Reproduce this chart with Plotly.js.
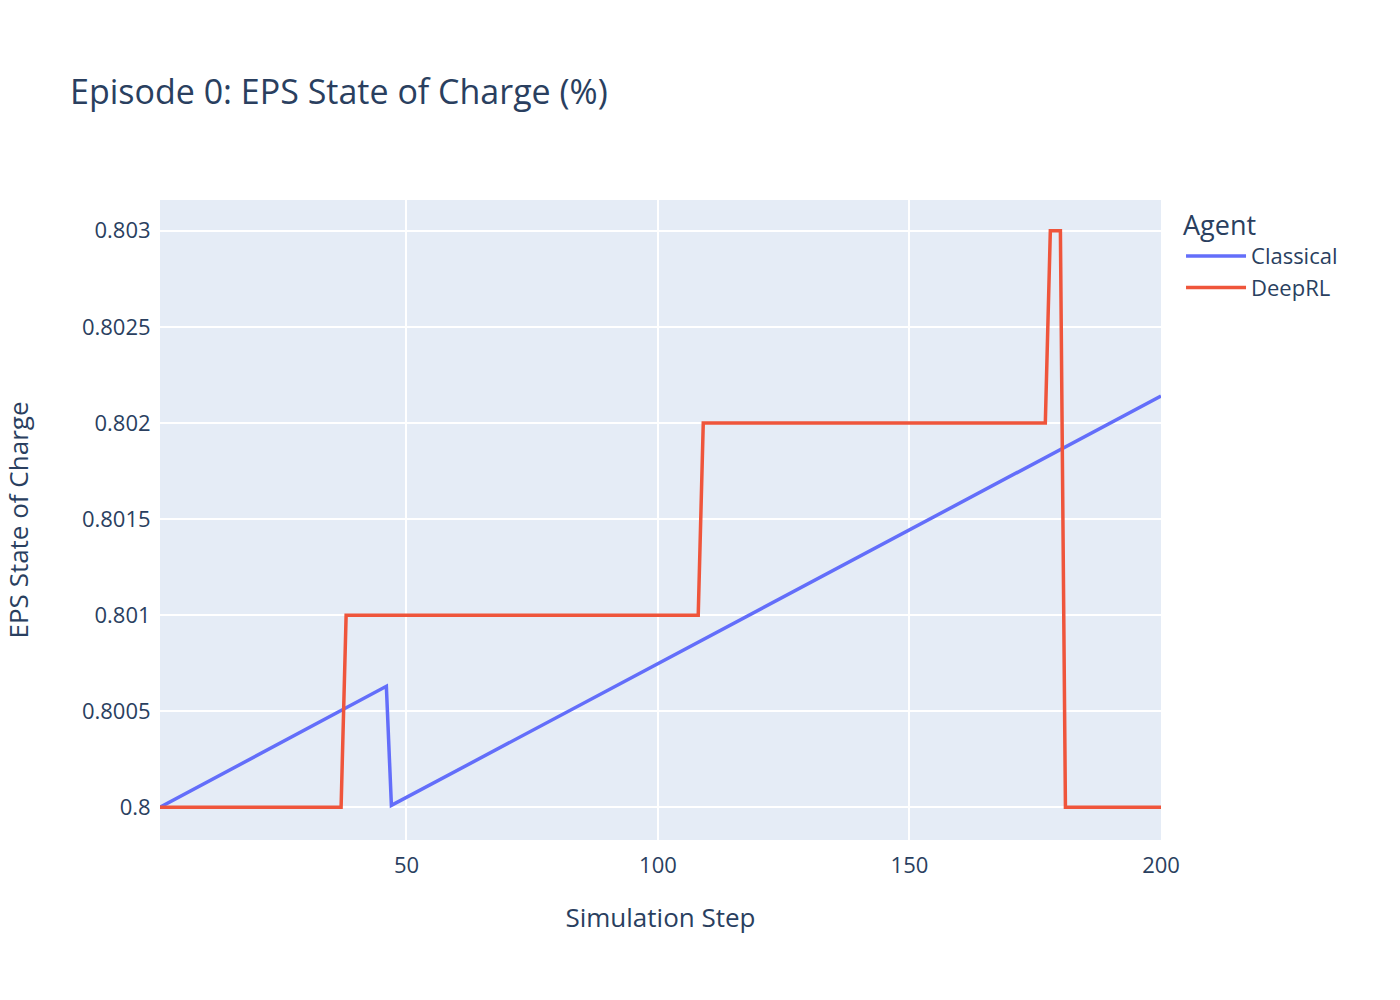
<!DOCTYPE html>
<html><head><meta charset="utf-8">
<script src="https://cdn.plot.ly/plotly-3.0.1.min.js"></script>
<style>body{margin:0}</style></head>
<body><div id="chart" style="width:1400px;height:1000px"></div>
<script>
// Vertices of each agent's state-of-charge trace
const classicalStep=[1,46,47,200];
const classicalSoc=[0.8,0.80063,0.80001,0.80214];
const deeprlStep=[1,37,38,108,109,177,178,180,181,200];
const deeprlSoc=[0.8,0.8,0.801,0.801,0.802,0.802,0.803,0.803,0.8,0.8];

const ink="#2a3f5f";
Plotly.newPlot("chart",[
  {x:classicalStep,y:classicalSoc,name:"Classical",mode:"lines",line:{color:"#636efa",width:3.5}},
  {x:deeprlStep,y:deeprlSoc,name:"DeepRL",mode:"lines",line:{color:"#EF553B",width:3.5}}
],{
  width:1400,height:1000,
  font:{family:"Open Sans, Arial, sans-serif",color:ink,size:22},
  title:{text:"Episode 0: EPS State of Charge (%)",x:0.05,y:0.92,font:{size:34}},
  paper_bgcolor:"#fff",plot_bgcolor:"#E5ECF6",
  margin:{l:160,r:239,t:200,b:160},
  xaxis:{title:{text:"Simulation Step",font:{size:26},standoff:30},range:[1,200],gridcolor:"#fff",gridwidth:2,zeroline:false,
    tickvals:[50,100,150,200],ticks:"outside",ticklen:6,tickcolor:"rgba(0,0,0,0)"},
  yaxis:{title:{text:"EPS State of Charge",font:{size:26},standoff:60},range:[0.79983,0.80316],gridcolor:"#fff",gridwidth:2,zeroline:false,
    ticks:"outside",ticklen:4,tickcolor:"rgba(0,0,0,0)",
    tickvals:[0.8,0.8005,0.801,0.8015,0.802,0.8025,0.803],ticktext:["0.8","0.8005","0.801","0.8015","0.802","0.8025","0.803"]},
  legend:{title:{text:"Agent",font:{size:27}},font:{size:22},x:1.02,y:1,itemwidth:60}
},{displayModeBar:false});
</script></body></html>
